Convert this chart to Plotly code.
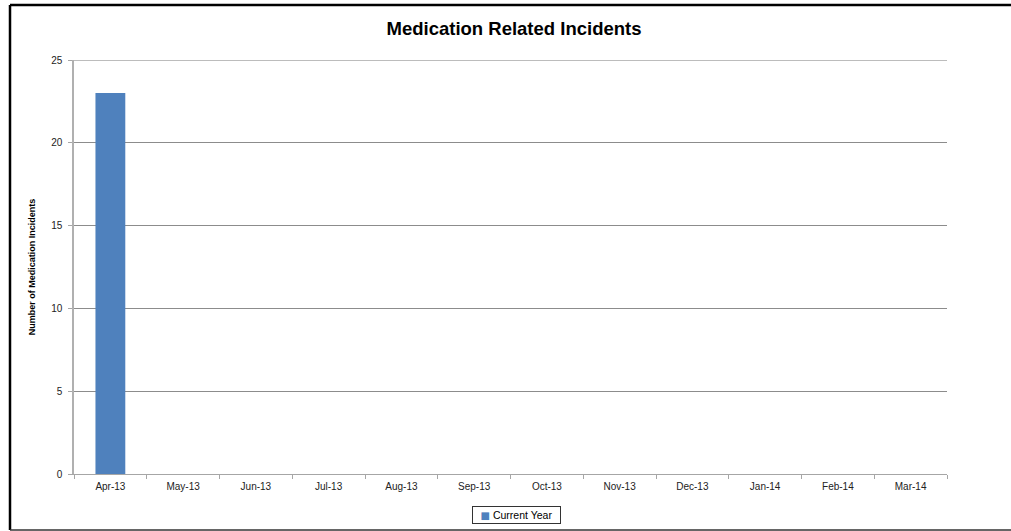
import plotly.graph_objects as go

# Monthly medication incident counts for the reporting year
months = ["Apr-13", "May-13", "Jun-13", "Jul-13", "Aug-13", "Sep-13",
          "Oct-13", "Nov-13", "Dec-13", "Jan-14", "Feb-14", "Mar-14"]
current_year = [23, None, None, None, None, None, None, None, None, None, None, None]
series_name = "Current Year"
y_ticks = [0, 5, 10, 15, 20, 25]

W, H = 1011, 531
L, R, T, B = 74, 64, 60, 57
pw, ph = W - L - R, H - T - B


def px_x(x):
    return (x - L) / pw


def px_y(y):
    return (H - B - y) / ph


BAR_COLOR = "#4f81bd"
FONT = "Liberation Sans, Arial, sans-serif"

fig = go.Figure()
fig.add_trace(go.Bar(
    x=months, y=current_year, name=series_name,
    marker=dict(color=BAR_COLOR, line=dict(width=0)),
    width=0.41, showlegend=False,
))

fig.update_layout(
    width=W, height=H,
    margin=dict(l=L, r=R, t=T, b=B, pad=0, autoexpand=False),
    paper_bgcolor="white", plot_bgcolor="white",
    font=dict(family=FONT, size=10, color="#222"),
    title=dict(
        text="<b>Medication Related Incidents</b>",
        font=dict(family=FONT, size=18.5, color="#000"),
        x=px_x(514), xref="paper", xanchor="center",
        y=1 - 29 / H, yref="container", yanchor="middle",
    ),
    xaxis=dict(
        type="category", categoryorder="array", categoryarray=months,
        range=[-0.5, 11.5],
        showline=True, linecolor="#a6a6a6", linewidth=1,
        ticks="outside", ticklen=4, tickcolor="#a6a6a6", tickson="boundaries",
        showgrid=False, tickfont=dict(size=10, color="#222"),
        ticklabelstandoff=3,
        fixedrange=True,
    ),
    yaxis=dict(
        range=[0, 25], tickvals=y_ticks,
        showline=True, linecolor="#b0b0b0", linewidth=1.5,
        ticks="outside", ticklen=4, tickcolor="#a6a6a6",
        showgrid=True, gridcolor="#8c8c8c", gridwidth=1,
        zeroline=False, tickfont=dict(size=10, color="#222"),
        ticklabelstandoff=4,
        title=dict(text="<b>Number of Medication Incidents</b>",
                   font=dict(size=9, color="#000"), standoff=14),
        fixedrange=True,
    ),
    showlegend=False,
)

# legend box below the plot: colour key plus series name
fig.add_annotation(
    xref="paper", yref="paper", x=px_x(516.5), y=px_y(515),
    xanchor="center", yanchor="middle", showarrow=False,
    text=(f"<span style='color:{BAR_COLOR};font-size:10px;"
          f"font-family:DejaVu Sans'>■</span> {series_name}"),
    font=dict(family=FONT, size=10.5, color="#000"),
    width=83, height=12, align="center", valign="middle",
    bordercolor="#333", borderwidth=1, borderpad=2, bgcolor="white",
)

# top gridline at the axis maximum
fig.add_shape(type="line", xref="paper", yref="y",
              x0=0, x1=1, y0=y_ticks[-1], y1=y_ticks[-1],
              line=dict(color="#a6a6a6", width=1.5), layer="below")

# outer chart frame
fig.add_shape(type="line", xref="paper", yref="paper",
              x0=px_x(10), x1=px_x(1015), y0=px_y(5), y1=px_y(5),
              line=dict(color="#000", width=2.5))
fig.add_shape(type="line", xref="paper", yref="paper",
              x0=px_x(10), x1=px_x(10), y0=px_y(5), y1=px_y(530),
              line=dict(color="#000", width=2.5))
fig.add_shape(type="line", xref="paper", yref="paper",
              x0=px_x(10), x1=px_x(1015), y0=px_y(530), y1=px_y(530),
              line=dict(color="#333", width=1.5))

fig.write_html("out.html")
